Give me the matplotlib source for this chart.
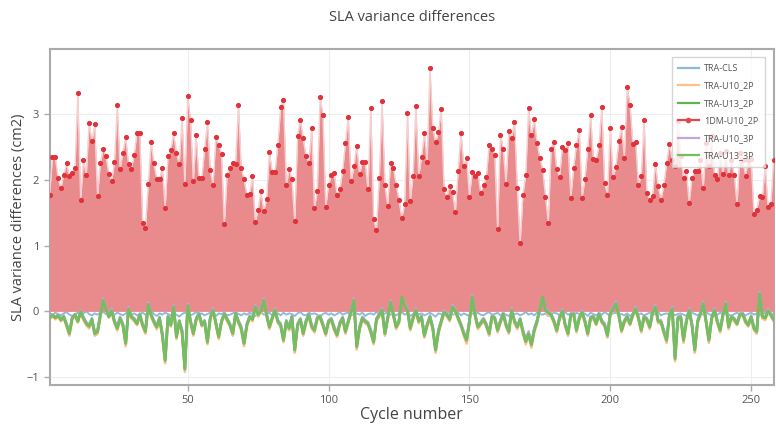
import numpy as np
import matplotlib
matplotlib.use("Agg")
import matplotlib.pyplot as plt
from matplotlib.lines import Line2D

plt.rcParams["font.family"] = ["Open Sans", "DejaVu Sans"]

# SLA variance differences per cycle (cm2)
dm_u10_2p = [
    1.78, 2.35, 2.35, 2.03, 1.88, 2.08, 2.26, 2.06, 2.11, 2.19,
    3.32, 1.70, 2.31, 2.08, 2.87, 2.59, 2.85, 1.76, 2.26, 2.48,
    2.36, 2.09, 1.98, 2.27, 3.14, 2.17, 2.42, 2.66, 2.24, 2.17,
    2.39, 2.72, 2.72, 1.35, 1.27, 1.94, 2.58, 2.26, 2.01, 2.01,
    2.18, 1.58, 2.36, 2.46, 2.71, 2.41, 2.24, 2.95, 1.94, 3.28,
    2.92, 1.98, 2.68, 2.03, 2.03, 2.47, 2.89, 2.15, 1.93, 2.65,
    2.54, 2.40, 1.33, 2.08, 2.19, 2.26, 2.25, 3.15, 2.18, 2.01,
    1.78, 1.79, 2.06, 1.36, 1.55, 1.83, 1.53, 1.71, 2.43, 2.12,
    2.12, 2.54, 3.12, 3.22, 1.92,
    2.17, 2.01, 1.37, 2.67, 2.91, 2.64, 2.36, 2.26, 2.80, 1.57,
    1.83, 3.27, 2.99, 1.59, 1.93, 2.08, 2.11, 1.78, 1.86, 2.14,
    2.57, 2.96, 1.98, 2.21, 2.52, 2.10, 2.27, 2.27, 1.86, 3.10,
    1.40, 1.24, 2.03, 3.20, 1.92, 1.61, 2.26, 2.19, 1.93, 1.70,
    1.42, 1.64, 3.02, 1.68, 2.07, 3.13, 2.06, 2.35, 2.71, 2.28,
    3.71, 2.79, 2.58, 2.73, 3.09, 1.86, 1.75, 1.91, 1.82, 1.51,
    2.14, 2.72, 2.22, 2.34, 1.75, 2.13, 2.07, 2.11, 1.81, 1.93,
    2.05, 2.53, 2.47, 2.39, 1.25, 2.69, 2.48, 1.94, 2.75, 2.64,
    2.89, 1.88, 1.04, 1.78, 2.08, 3.10,
    2.68, 2.93, 2.57, 2.34, 2.16, 1.75, 1.35, 2.47, 2.58, 2.17,
    2.05, 2.51, 2.46, 2.56, 1.73, 2.19, 2.54, 2.76, 1.73, 2.02,
    2.48, 2.99, 2.32, 2.31, 2.53, 3.12, 1.95, 1.78, 2.80, 2.04,
    2.20, 2.59, 2.81, 2.33, 3.42, 3.15, 2.55, 2.58, 1.92, 2.07,
    2.92, 1.81, 1.70, 1.76, 2.25, 1.91, 1.70, 1.92, 2.26, 2.55,
    2.31, 2.22, 2.90, 2.36, 2.03, 2.14, 1.65, 2.03, 2.14, 2.14,
    2.31, 1.88, 2.57, 2.21, 2.67, 2.08, 2.01, 2.41, 2.09, 2.44,
    2.08, 2.31, 2.08, 1.64, 2.41, 2.31, 2.07, 2.30, 2.32, 1.49,
    1.55, 1.76, 1.74, 2.22, 1.59, 1.63, 2.31,
]

tra_cls = [
    -0.03, -0.05, -0.02, -0.04, -0.06, -0.03, -0.01, -0.05, -0.07, -0.04,
    -0.02, -0.05, -0.03, 0.00, -0.04, -0.06, -0.03, -0.05, -0.02, -0.01,
    -0.04, -0.07, -0.03, -0.05, -0.02, -0.04, -0.06, -0.03, -0.01, -0.05,
    -0.03, -0.06, -0.04, -0.02, -0.05, -0.03, 0.01, -0.04, -0.07, -0.03,
    -0.05, -0.02, -0.04, -0.06, -0.03, -0.05, -0.08, -0.04, -0.02, -0.03,
    -0.06, -0.04, -0.01, -0.05, -0.03, -0.06, -0.04, -0.02, -0.05, -0.07,
    -0.03, -0.04, -0.02, -0.06, -0.05, -0.03, -0.01, -0.04, -0.06, -0.03,
    -0.05, -0.02, -0.04, -0.07, -0.03, -0.01, -0.05, -0.04, -0.02, -0.06,
    -0.04, -0.03, -0.06, -0.02, -0.05, -0.03, -0.04, -0.07, -0.03, -0.01,
    -0.05, -0.06, -0.02, -0.04, -0.03, -0.05, -0.08, -0.04, -0.02, -0.05,
    -0.03, -0.06, -0.04, -0.01, -0.05, -0.03, -0.02, -0.06, -0.04, -0.03,
    -0.05, -0.02, -0.07, -0.04, -0.03, -0.05, -0.01, -0.04, -0.06, -0.03,
    -0.02, -0.05, -0.04, -0.06, -0.03, -0.01, -0.05, -0.03, -0.07, -0.04,
    -0.02, -0.05, -0.03, -0.06, -0.04, -0.02, -0.05, -0.08, -0.03, -0.04,
    -0.06, -0.03, -0.01, -0.05, -0.04, -0.02, -0.06, -0.03, -0.05, -0.07,
    -0.03, -0.04, -0.02, -0.05, -0.06, -0.03, -0.01, -0.05, -0.04, -0.02,
    -0.06, -0.03, -0.05, -0.07, -0.02, -0.04, -0.03, -0.06, -0.04, -0.01,
    -0.05, -0.03, -0.06, -0.02, -0.04, -0.05, -0.03, -0.07, -0.04, -0.02,
    -0.03, -0.06, -0.04, -0.01, -0.05, -0.03, -0.06, -0.02, -0.04, -0.05,
    -0.03, -0.07, -0.02, -0.04, -0.06, -0.03, -0.05, -0.01, -0.04, -0.06,
    -0.03, -0.02, -0.05, -0.04, -0.06, -0.03, -0.07, -0.04, -0.02, -0.05,
    -0.03, -0.06, -0.04, -0.02, -0.05, -0.03, -0.01, -0.06, -0.04, -0.03,
    -0.05, -0.02, -0.06, -0.04, -0.03, -0.05, -0.07, -0.03, -0.02, -0.04,
    -0.06, -0.03, -0.05, -0.01, -0.04, -0.06, -0.03, -0.05, -0.02, -0.04,
    -0.03, -0.05, -0.07, -0.04, -0.02, -0.05, -0.03, -0.06, -0.04, -0.02,
    -0.05, -0.03, -0.06, -0.04, -0.02, -0.05, -0.03, -0.04,
]

tra_u10_2p = [
    -0.12, -0.07, -0.12, -0.08, -0.15, -0.10, -0.23, -0.37, -0.12, -0.07,
    -0.17, -0.02, -0.13, -0.21, -0.26, -0.15, -0.37, -0.34, -0.08, 0.15,
    0.03, -0.10, -0.01, -0.18, -0.29, -0.13, -0.23, -0.53, 0.02, -0.11,
    -0.15, -0.21, -0.08, -0.23, -0.34, 0.09, -0.08, -0.18, -0.27, -0.13,
    -0.39, -0.79, -0.11, -0.23, 0.05, -0.42, -0.18, -0.34, -0.92, 0.07,
    -0.18, -0.37, -0.15, -0.06, -0.23, -0.18, -0.50, -0.13, 0.00, -0.21,
    -0.42, -0.18, -0.06, -0.15, -0.23, -0.37, -0.06, -0.18, -0.29, -0.53,
    -0.23, -0.11, -0.15, 0.05, -0.08, -0.01, 0.15, -0.08, -0.27, -0.13,
    0.00, -0.18, -0.23, -0.47, -0.18, -0.29, -0.11, -0.63, -0.23, -0.15,
    -0.37, -0.18, -0.08, -0.26, -0.32, -0.13, -0.11, -0.23, -0.37, -0.18,
    -0.15, -0.29, -0.39, -0.21, -0.13, -0.34, -0.18, -0.03, 0.15, -0.58,
    -0.29, -0.13, -0.18, -0.21, -0.34, -0.50, -0.15, -0.08, 0.00, -0.37,
    -0.13, 0.12, -0.08, -0.27, -0.18, 0.26, 0.07, 0.00, -0.29, -0.13,
    0.00, -0.18, -0.11, -0.40, -0.23, -0.11, -0.29, -0.63, -0.34, -0.18,
    -0.03, -0.08, -0.15, 0.05, -0.01, -0.13, -0.23, -0.37, -0.49, -0.18,
    0.20, -0.08, -0.27, -0.21, -0.15, -0.23, -0.37, -0.11, -0.13, -0.32,
    -0.18, -0.06, -0.23, -0.34, 0.00, -0.18, -0.27, -0.15, -0.34, -0.50,
    -0.37, -0.55, -0.32, -0.18, 0.02, 0.26, 0.00, -0.05, -0.08, -0.18,
    -0.32, -0.13, -0.01, -0.23, -0.37, -0.08, -0.06, -0.32, -0.13, -0.03,
    -0.18, -0.37, -0.13, -0.11, -0.21, -0.06, -0.18, -0.23, -0.40, -0.06,
    0.02, 0.10, -0.08, -0.32, -0.18, -0.11, -0.21, -0.08, 0.02, -0.13,
    -0.32, -0.11, -0.15, -0.27, -0.05, 0.05, -0.18, -0.18, -0.34, -0.48,
    -0.08, 0.02, -0.76, -0.13, -0.11, -0.48, -0.18, 0.00, -0.23, -0.63,
    -0.18, -0.06, 0.10, -0.18, -0.48, -0.13, 0.00, -0.18, -0.32, -0.08,
    0.10, -0.27, -0.11, -0.15, -0.21, -0.08, -0.06, -0.18, -0.23, -0.11,
    -0.29, -0.34, 0.25, -0.11, -0.13, -0.01, -0.08, -0.15,
]

tra_u13_2p = [
    -0.10, -0.05, -0.10, -0.06, -0.12, -0.08, -0.20, -0.33, -0.10, -0.05,
    -0.15, 0.00, -0.10, -0.18, -0.22, -0.12, -0.33, -0.30, -0.05, 0.18,
    0.05, -0.08, 0.02, -0.15, -0.25, -0.10, -0.20, -0.48, 0.05, -0.08,
    -0.12, -0.18, -0.05, -0.20, -0.30, 0.12, -0.05, -0.15, -0.23, -0.10,
    -0.35, -0.74, -0.08, -0.20, 0.08, -0.38, -0.15, -0.30, -0.87, 0.10,
    -0.15, -0.33, -0.12, -0.03, -0.20, -0.15, -0.46, -0.10, 0.03, -0.18,
    -0.38, -0.15, -0.03, -0.12, -0.20, -0.33, -0.03, -0.15, -0.25, -0.48,
    -0.20, -0.08, -0.12, 0.08, -0.05, 0.02, 0.18, -0.05, -0.23, -0.10,
    0.03, -0.15, -0.20, -0.43, -0.15, -0.25, -0.08, -0.58, -0.20, -0.12,
    -0.33, -0.15, -0.05, -0.22, -0.28, -0.10, -0.08, -0.20, -0.33, -0.15,
    -0.12, -0.25, -0.35, -0.18, -0.10, -0.30, -0.15, 0.00, 0.18, -0.53,
    -0.25, -0.10, -0.15, -0.18, -0.30, -0.46, -0.12, -0.05, 0.03, -0.33,
    -0.10, 0.15, -0.05, -0.23, -0.15, 0.23, 0.10, 0.03, -0.25, -0.10,
    0.03, -0.15, -0.08, -0.36, -0.20, -0.08, -0.25, -0.58, -0.30, -0.15,
    0.00, -0.05, -0.12, 0.08, 0.02, -0.10, -0.20, -0.33, -0.43, -0.15,
    0.23, -0.05, -0.23, -0.18, -0.12, -0.20, -0.33, -0.08, -0.10, -0.28,
    -0.15, -0.03, -0.20, -0.30, 0.03, -0.15, -0.23, -0.12, -0.30, -0.45,
    -0.33, -0.50, -0.28, -0.15, 0.05, 0.23, 0.03, -0.02, -0.05, -0.15,
    -0.28, -0.10, 0.02, -0.20, -0.33, -0.05, -0.03, -0.28, -0.10, 0.00,
    -0.15, -0.33, -0.10, -0.08, -0.18, -0.03, -0.15, -0.20, -0.36, -0.03,
    0.05, 0.13, -0.05, -0.28, -0.15, -0.08, -0.18, -0.05, 0.05, -0.10,
    -0.28, -0.08, -0.12, -0.23, -0.02, 0.08, -0.15, -0.15, -0.30, -0.43,
    -0.05, 0.05, -0.71, -0.10, -0.08, -0.43, -0.15, 0.03, -0.20, -0.58,
    -0.15, -0.03, 0.13, -0.15, -0.43, -0.10, 0.03, -0.15, -0.28, -0.05,
    0.13, -0.23, -0.08, -0.12, -0.18, -0.05, -0.03, -0.15, -0.20, -0.08,
    -0.25, -0.30, 0.28, -0.08, -0.10, 0.02, -0.05, -0.12,
]

tra_u10_3p = [
    -0.09, -0.04, -0.08, -0.05, -0.11, -0.06, -0.18, -0.30, -0.08, -0.04,
    -0.13, 0.02, -0.08, -0.16, -0.20, -0.10, -0.30, -0.27, -0.03, 0.20,
    0.07, -0.06, 0.04, -0.13, -0.22, -0.08, -0.18, -0.45, 0.07, -0.06,
    -0.10, -0.16, -0.03, -0.18, -0.27, 0.14, -0.03, -0.13, -0.21, -0.08,
    -0.32, -0.70, -0.06, -0.18, 0.10, -0.35, -0.13, -0.27, -0.83, 0.12,
    -0.13, -0.30, -0.10, -0.01, -0.18, -0.13, -0.43, -0.08, 0.05, -0.16,
    -0.35, -0.13, -0.01, -0.10, -0.18, -0.30, -0.01, -0.13, -0.22, -0.45,
    -0.18, -0.06, -0.10, 0.10, -0.03, 0.04, 0.20, -0.03, -0.21, -0.08,
    0.05, -0.13, -0.18, -0.40, -0.13, -0.22, -0.06, -0.55, -0.18, -0.10,
    -0.30, -0.13, -0.03, -0.20, -0.25, -0.08, -0.06, -0.18, -0.30, -0.13,
    -0.10, -0.22, -0.32, -0.16, -0.08, -0.27, -0.13, 0.02, 0.20, -0.50,
    -0.22, -0.08, -0.13, -0.16, -0.27, -0.43, -0.10, -0.03, 0.05, -0.30,
    -0.08, 0.17, -0.03, -0.21, -0.13, 0.21, 0.12, 0.05, -0.22, -0.08,
    0.05, -0.13, -0.06, -0.33, -0.18, -0.06, -0.22, -0.55, -0.27, -0.13,
    0.02, -0.03, -0.10, 0.10, 0.04, -0.08, -0.18, -0.30, -0.40, -0.13,
    0.25, -0.03, -0.21, -0.16, -0.10, -0.18, -0.30, -0.06, -0.08, -0.25,
    -0.13, -0.01, -0.18, -0.27, 0.05, -0.13, -0.21, -0.10, -0.27, -0.42,
    -0.30, -0.47, -0.25, -0.13, 0.07, 0.21, 0.05, 0.00, -0.03, -0.13,
    -0.25, -0.08, 0.04, -0.18, -0.30, -0.03, -0.01, -0.25, -0.08, 0.02,
    -0.13, -0.30, -0.08, -0.06, -0.16, -0.01, -0.13, -0.18, -0.33, -0.01,
    0.07, 0.15, -0.03, -0.25, -0.13, -0.06, -0.16, -0.03, 0.07, -0.08,
    -0.25, -0.06, -0.10, -0.21, 0.00, 0.10, -0.13, -0.13, -0.27, -0.40,
    -0.03, 0.07, -0.68, -0.08, -0.06, -0.40, -0.13, 0.05, -0.18, -0.55,
    -0.13, -0.01, 0.15, -0.13, -0.40, -0.08, 0.05, -0.13, -0.25, -0.03,
    0.15, -0.21, -0.06, -0.10, -0.16, -0.03, -0.01, -0.13, -0.18, -0.06,
    -0.22, -0.27, 0.30, -0.06, -0.08, 0.04, -0.03, -0.10,
]

tra_u13_3p = [
    -0.10, -0.06, -0.09, -0.06, -0.13, -0.08, -0.21, -0.34, -0.10, -0.05,
    -0.15, 0.00, -0.11, -0.18, -0.23, -0.12, -0.34, -0.31, -0.06, 0.17,
    0.04, -0.08, 0.01, -0.16, -0.26, -0.10, -0.21, -0.49, 0.04, -0.08,
    -0.12, -0.19, -0.05, -0.21, -0.31, 0.11, -0.05, -0.16, -0.24, -0.10,
    -0.36, -0.75, -0.08, -0.21, 0.07, -0.39, -0.15, -0.31, -0.88, 0.09,
    -0.15, -0.34, -0.12, -0.04, -0.21, -0.15, -0.47, -0.10, 0.02, -0.18,
    -0.39, -0.15, -0.04, -0.12, -0.21, -0.34, -0.03, -0.16, -0.26, -0.49,
    -0.21, -0.08, -0.12, 0.07, -0.05, 0.01, 0.17, -0.05, -0.24, -0.10,
    0.02, -0.15, -0.21, -0.44, -0.15, -0.26, -0.08, -0.59, -0.21, -0.12,
    -0.34, -0.15, -0.05, -0.23, -0.29, -0.10, -0.08, -0.21, -0.34, -0.15,
    -0.12, -0.26, -0.36, -0.18, -0.10, -0.31, -0.15, -0.01, 0.17, -0.54,
    -0.26, -0.10, -0.15, -0.19, -0.31, -0.47, -0.12, -0.05, 0.02, -0.34,
    -0.10, 0.14, -0.05, -0.24, -0.15, 0.22, 0.09, 0.02, -0.26, -0.10,
    0.02, -0.15, -0.08, -0.37, -0.21, -0.08, -0.26, -0.59, -0.31, -0.15,
    -0.01, -0.05, -0.12, 0.07, 0.01, -0.10, -0.21, -0.34, -0.44, -0.15,
    0.22, -0.05, -0.24, -0.18, -0.12, -0.21, -0.34, -0.08, -0.10, -0.29,
    -0.15, -0.04, -0.21, -0.31, 0.02, -0.15, -0.24, -0.12, -0.31, -0.46,
    -0.34, -0.51, -0.29, -0.15, 0.04, 0.22, 0.02, -0.02, -0.05, -0.15,
    -0.29, -0.10, 0.01, -0.21, -0.34, -0.05, -0.04, -0.29, -0.10, -0.01,
    -0.15, -0.34, -0.10, -0.08, -0.19, -0.04, -0.15, -0.21, -0.37, -0.03,
    0.04, 0.12, -0.05, -0.29, -0.15, -0.08, -0.19, -0.05, 0.04, -0.10,
    -0.29, -0.08, -0.12, -0.24, -0.02, 0.07, -0.15, -0.16, -0.31, -0.44,
    -0.05, 0.04, -0.72, -0.10, -0.08, -0.44, -0.15, 0.02, -0.21, -0.59,
    -0.15, -0.04, 0.12, -0.15, -0.44, -0.10, 0.02, -0.16, -0.29, -0.05,
    0.12, -0.24, -0.08, -0.12, -0.19, -0.05, -0.04, -0.15, -0.21, -0.08,
    -0.26, -0.31, 0.27, -0.08, -0.10, 0.01, -0.05, -0.12,
]

cycles = np.arange(1, len(dm_u10_2p) + 1)

c_cls = "#8fbbd9"
c_u10_2p = "#ffbf86"
c_u13_2p = "#5fb24f"
c_dm = "#e0323a"
c_u10_3p = "#c3a7dc"
c_u13_3p = "#74bd62"

fig = plt.figure(figsize=(7.76, 4.32), dpi=100)
ax = fig.add_axes([0.064, 0.109, 0.933, 0.778])

ax.plot(cycles, tra_cls, color=c_cls, lw=1.4, zorder=2)
ax.plot(cycles, tra_u10_2p, color=c_u10_2p, lw=1.9, zorder=2)
ax.plot(cycles, tra_u13_2p, color=c_u13_2p, lw=1.9, zorder=2)
ax.fill_between(cycles, 0, dm_u10_2p, color="#e98a8d", lw=0, zorder=3)
ax.plot(cycles, dm_u10_2p, color="#f6d0d1", lw=1.0, zorder=4)
ax.plot(cycles, dm_u10_2p, ls="none", marker="o", ms=2.7, color=c_dm, zorder=5)
ax.plot(cycles, tra_u10_3p, color=c_u10_3p, lw=1.6, zorder=6)
ax.plot(cycles, tra_u13_3p, color=c_u13_3p, lw=2.0, zorder=7)

ax.set_xlim(1, 258)
ax.set_ylim(-1.12, 4.0)
ax.set_xticks([50, 100, 150, 200, 250])
ax.set_yticks([-1, 0, 1, 2, 3])
ax.grid(True, color="#eeeeee", lw=0.8, zorder=0)
ax.set_axisbelow(True)

for s in ax.spines.values():
    s.set_color("#aaaaaa")
    s.set_linewidth(1.5)
ax.tick_params(colors="#aaaaaa", labelcolor="#555555", labelsize=8, length=4, width=1)

ax.set_title("SLA variance differences", fontsize=10.5, color="#444444", pad=20)
ax.set_xlabel("Cycle number", fontsize=11.5, color="#444444")
ax.set_ylabel("SLA variance differences (cm2)", fontsize=10.5, color="#444444")
ax.xaxis.set_label_coords(0.5, -0.065)
ax.yaxis.set_label_coords(-0.033, 0.5)

handles = [
    Line2D([], [], color=c_cls, lw=1.6),
    Line2D([], [], color=c_u10_2p, lw=1.6),
    Line2D([], [], color=c_u13_2p, lw=1.6),
    Line2D([], [], color="#e0484e", lw=1.6, marker="o", ms=3),
    Line2D([], [], color=c_u10_3p, lw=1.6),
    Line2D([], [], color=c_u13_3p, lw=1.6),
]
labels = ["TRA-CLS", "TRA-U10_2P", "TRA-U13_2P", "1DM-U10_2P", "TRA-U10_3P", "TRA-U13_3P"]
leg = ax.legend(handles, labels, loc="upper right", bbox_to_anchor=(0.994, 0.988),
                fontsize=6.5, frameon=True, fancybox=False, labelspacing=0.95,
                handlelength=2.3, borderpad=0.7, handletextpad=0.6)
leg.get_frame().set_edgecolor("#cccccc")
leg.get_frame().set_linewidth(1.0)
leg.set_zorder(10)
for t in leg.get_texts():
    t.set_color("#555555")

fig.savefig("out.png", dpi=100)
